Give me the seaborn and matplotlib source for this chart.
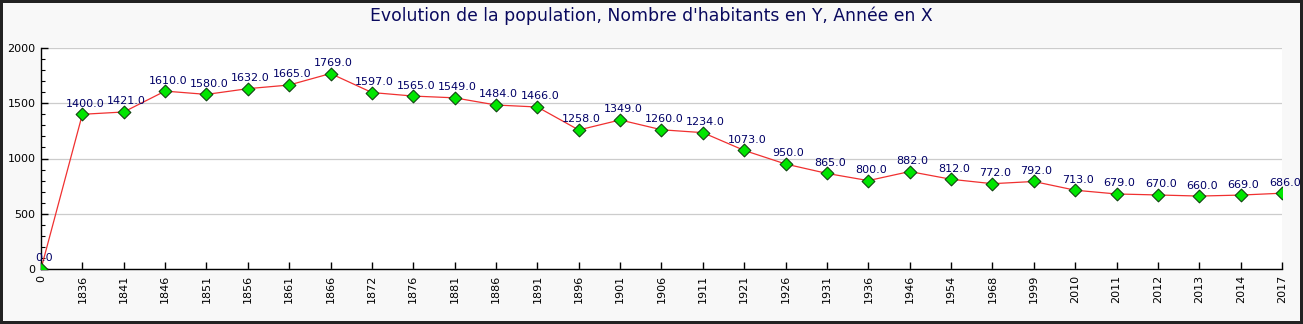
import matplotlib
matplotlib.use("Agg")
import matplotlib.pyplot as plt
import seaborn as sns
import numpy as np
import pandas as pd
from matplotlib.ticker import MultipleLocator

years = ["0", "1836", "1841", "1846", "1851", "1856", "1861", "1866", "1872", "1876",
         "1881", "1886", "1891", "1896", "1901", "1906", "1911", "1921", "1926", "1931",
         "1936", "1946", "1954", "1968", "1999", "2010", "2011", "2012", "2013", "2014", "2017"]
population = [0, 1400, 1421, 1610, 1580, 1632, 1665, 1769, 1597, 1565,
              1549, 1484, 1466, 1258, 1349, 1260, 1234, 1073, 950, 865,
              800, 882, 812, 772, 792, 713, 679, 670, 660, 669, 686]
yticks = [0, 500, 1000, 1500, 2000]
title = "Evolution de la population, Nombre d'habitants en Y, Année en X"

df = pd.DataFrame({"pos": np.arange(len(years)), "year": years, "pop": population})

sns.set_theme(style="white")
plt.rcParams['font.family'] = ['DejaVu Sans']

fig = plt.figure(figsize=(13.03, 3.24), dpi=100)
fig.patch.set_facecolor("#f8f8f8")
fig.patch.set_edgecolor("#222222")
fig.patch.set_linewidth(3)

ax = fig.add_axes([41/1303, 1 - 269/324, (1282 - 41)/1303, (269 - 48)/324])
ax.set_facecolor("white")

sns.lineplot(data=df, x="pos", y="pop", color="#f03030", linewidth=0.9, ax=ax, zorder=2)
sns.scatterplot(data=df, x="pos", y="pop", marker="D", s=42, color="#00e600",
                edgecolor="#114411", linewidth=0.8, ax=ax, zorder=3)

for _, r in df.iterrows():
    ax.annotate(f"{r['pop']:.1f}", (r["pos"], r["pop"]), xytext=(2, 4),
                textcoords="offset points", ha="center", va="bottom",
                fontsize=8, color="#000066", zorder=4)

ax.set_xlim(0, len(years) - 1)
ax.set_ylim(0, 2000)
ax.set_xticks(df["pos"])
ax.set_xticklabels(years, rotation=90, fontsize=8, color="black")
ax.set_yticks(yticks)
ax.set_yticklabels([str(v) for v in yticks], fontsize=8, color="black")
ax.yaxis.set_minor_locator(MultipleLocator(100))
ax.tick_params(axis="both", which="major", direction="in", length=5, width=1, color="black", pad=4)
ax.tick_params(axis="y", which="minor", direction="in", length=3, width=0.8, color="black", left=True)
ax.tick_params(axis="x", which="major", bottom=True)
ax.tick_params(axis="y", which="major", left=True)
ax.grid(axis="y", color="#cccccc", linewidth=0.9)
ax.set_axisbelow(True)
for s in ["top", "right"]:
    ax.spines[s].set_visible(False)
for s in ["left", "bottom"]:
    ax.spines[s].set_color("black")
    ax.spines[s].set_linewidth(1)
ax.set_xlabel("")
ax.set_ylabel("")

fig.text(651/1303, 1 - 16/324, title, ha="center", va="center", fontsize=12.4, color="#0a0a5e")

fig.savefig("out.png", dpi=100, facecolor=fig.get_facecolor(), edgecolor=fig.get_edgecolor())
